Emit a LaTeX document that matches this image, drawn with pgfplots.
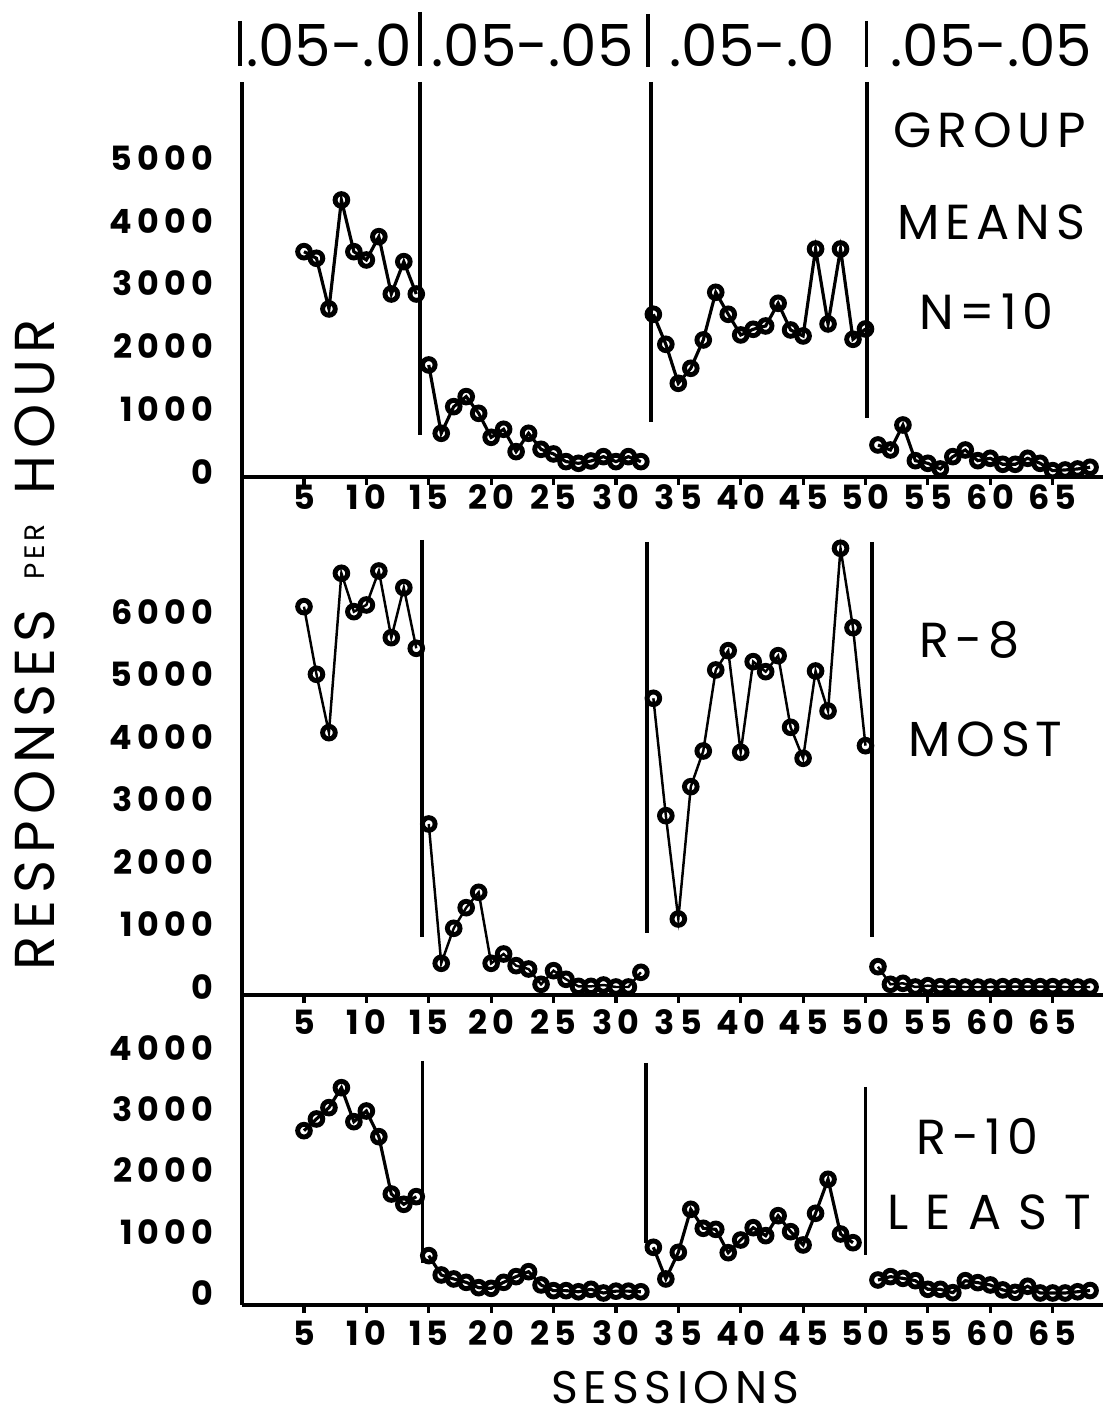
\documentclass[border=0pt]{standalone}
\usepackage{pgfplots}
\pgfplotsset{compat=1.18}
\usepackage{fontspec}
\setmainfont{Poppins}
\newfontfamily\labfnt[LetterSpace=12]{Poppins}
\newfontfamily\widefnt[LetterSpace=35]{Poppins}
\newfontfamily\numfnt[LetterSpace=15]{Poppins}

\pgfplotsset{
  panel/.style={
    scale only axis, width=8.61cm,
    xmin=0, xmax=69,
    axis x line=bottom, axis y line=left,
    axis line style={-, line width=1.1pt},
    xtick={5,10,...,65},
    xticklabels={5,10,15,20,25,30,35,40,45,50,55,60,65},
    xtick style={line width=0.9pt, black},
    ytick style={draw=none},
    major tick length=0.08cm,
    tick align=outside,
    scaled y ticks=false,
    tick label style={font=\numfnt\bfseries\fontsize{9.5}{11}\selectfont},
    yticklabel style={anchor=east, inner sep=0pt, xshift=-0.2cm},
    xticklabel style={anchor=center, inner sep=0pt},
    clip=false,
  },
  ph/.style={black, line width=#1, mark=o, mark size=1.8pt,
    mark options={line width=1.4pt, fill=white, solid}},
}

\begin{document}
\begin{tikzpicture}
\path[use as bounding box] (0,0) rectangle (11.16cm,14.16cm);

% ---- group means ----
\begin{axis}[panel, at={(2.416cm,9.39cm)}, anchor=south west,
  height=3.95cm, ymin=-80, ymax=6210,
  ytick={0,1000,2000,3000,4000,5000},
  yticklabels={0,1000,2000,3000,4000,5000},
  xticklabel style={yshift=-0.12cm}]
\addplot[ph=0.9pt] coordinates {(5,3508) (6,3403) (7,2596) (8,4331) (9,3508)
  (10,3376) (11,3747) (12,2834) (13,3349) (14,2834)};
\addplot[ph=0.9pt] coordinates {(15,1704) (16,616) (17,1040) (18,1200) (19,934)
  (20,552) (21,680) (22,324) (23,616) (24,361) (25,287) (26,165) (27,138)
  (28,175) (29,244) (30,165) (31,244) (32,165)};
\addplot[ph=0.9pt] coordinates {(33,2511) (34,2033) (35,1412) (36,1651) (37,2102)
  (38,2861) (39,2511) (40,2182) (41,2272) (42,2325) (43,2686) (44,2261)
  (45,2166) (46,3551) (47,2357) (48,3551) (49,2113) (50,2277)};
\addplot[ph=0.9pt] coordinates {(51,430) (52,350) (53,748) (54,180) (55,138)
  (56,48) (57,244) (58,350) (59,180) (60,218) (61,122) (62,122) (63,218)
  (64,138) (65,21) (66,32) (67,48) (68,75)};
\draw[line width=1.1pt] (axis cs:14.29,6210) -- (axis cs:14.29,589);
\draw[line width=1.1pt] (axis cs:32.8,6210) -- (axis cs:32.8,796);
\draw[line width=1.1pt] (axis cs:50.1,6210) -- (axis cs:50.1,860);
\end{axis}

% ---- R-8 most ----
\begin{axis}[panel, at={(2.416cm,4.21cm)}, anchor=south west,
  height=5.18cm, ymin=-128, ymax=8160,
  ytick={0,1000,2000,3000,4000,5000,6000},
  yticklabels={0,1000,2000,3000,4000,5000,6000},
  xticklabel style={yshift=-0.19cm}]
\addplot[ph=0.7pt] coordinates {(5,6085) (6,5003) (7,4069) (8,6619) (9,6005)
  (10,6112) (11,6656) (12,5589) (13,6389) (14,5419)};
\addplot[ph=0.7pt] coordinates {(15,2608) (16,379) (17,939) (18,1269) (19,1515)
  (20,379) (21,528) (22,341) (23,288) (24,43) (25,261) (26,123) (27,10)
  (28,10) (29,32) (30,0) (31,0) (32,235)};
\addplot[ph=0.7pt] coordinates {(33,4619) (34,2741) (35,1088) (36,3205) (37,3776)
  (38,5072) (39,5381) (40,3755) (41,5205) (42,5045) (43,5301) (44,4155)
  (45,3659) (46,5056) (47,4416) (48,7019) (49,5749) (50,3861)};
\addplot[ph=0.7pt] coordinates {(51,325) (52,43) (53,59) (54,0) (55,21)
  (56,5) (57,5) (58,0) (59,0) (60,0) (61,5) (62,5) (63,5) (64,5) (65,5)
  (66,0) (67,0) (68,0)};
\draw[line width=1.1pt] (axis cs:14.43,7152) -- (axis cs:14.43,800);
\draw[line width=1.1pt] (axis cs:32.52,7120) -- (axis cs:32.52,864);
\draw[line width=1.1pt] (axis cs:50.49,7120) -- (axis cs:50.49,800);
\end{axis}

% ---- R-10 least ----
\begin{axis}[panel, at={(2.416cm,1.11cm)}, anchor=south west,
  height=3.10cm, ymin=-196, ymax=4865,
  ytick={0,1000,2000,3000,4000},
  yticklabels={0,1000,2000,3000,4000},
  xticklabel style={yshift=-0.20cm}]
\addplot[ph=0.9pt] coordinates {(5,2650) (6,2841) (7,3026) (8,3352) (9,2797)
  (10,2971) (11,2552) (12,1616) (13,1448) (14,1573)};
\addplot[ph=0.9pt] coordinates {(15,610) (16,294) (17,229) (18,174) (19,87)
  (20,76) (21,174) (22,267) (23,348) (24,131) (25,38) (26,38) (27,20)
  (28,60) (29,0) (30,30) (31,30) (32,20)};
\addplot[ph=0.9pt] coordinates {(33,746) (34,229) (35,664) (36,1366) (37,1056)
  (38,1039) (39,658) (40,865) (41,1066) (42,936) (43,1262) (44,1001)
  (45,784) (46,1301) (47,1856) (48,963) (49,821)};
\addplot[ph=0.9pt] coordinates {(51,212) (52,267) (53,239) (54,201) (55,60)
  (56,60) (57,5) (58,201) (59,169) (60,131) (61,50) (62,10) (63,110)
  (64,0) (65,0) (66,0) (67,20) (68,40)};
\draw[line width=1pt] (axis cs:14.51,3788) -- (axis cs:14.51,490);
\draw[line width=1pt] (axis cs:32.39,3755) -- (axis cs:32.39,816);
\draw[line width=1pt] (axis cs:50.01,3363) -- (axis cs:50.01,620);
\end{axis}

% ---- lettering, in pixel units of the reference ----
\begin{scope}[x=0.01cm, y=-0.01cm, shift={(0,14.16cm)}]
\draw[line width=1.1pt] (240,21) -- (240,66);
\draw[line width=1.1pt] (420,12) -- (420,66);
\draw[line width=1.1pt] (648,14) -- (648,67);
\draw[line width=1.1pt] (867,21) -- (867,67);
\begin{scope}[every node/.style={font=\fontsize{16.5}{18}\selectfont, inner sep=0pt}]
\node at (329,45) {.05-.0};
\node at (533,45) {.05-.05};
\node at (753,45) {.05-.0};
\node at (992,45) {.05-.05};
\end{scope}
\begin{scope}[every node/.style={font=\labfnt\fontsize{14}{16}\selectfont, inner sep=0pt}]
\node at (990,130) {GROUP};
\node at (992,222) {MEANS};
\node at (987,312) {N=10};
\node at (970,640) {R-8};
\node at (986,740) {MOST};
\node at (978,1137) {R-10};
\end{scope}
\node[inner sep=0pt, font=\widefnt\fontsize{14}{16}\selectfont] at (990,1213) {LEAST};
\node[inner sep=0pt, font=\labfnt\fontsize{13}{15}\selectfont] at (676,1388) {SESSIONS};
\node[rotate=90, inner sep=0pt, font=\labfnt\fontsize{16}{18}\selectfont]
  at (35,645) {RESPONSES\hspace{0.3cm}\raisebox{2.8pt}{\fontsize{8}{10}\selectfont PER}\hspace{0.3cm}HOUR};
\end{scope}
\end{tikzpicture}
\end{document}
